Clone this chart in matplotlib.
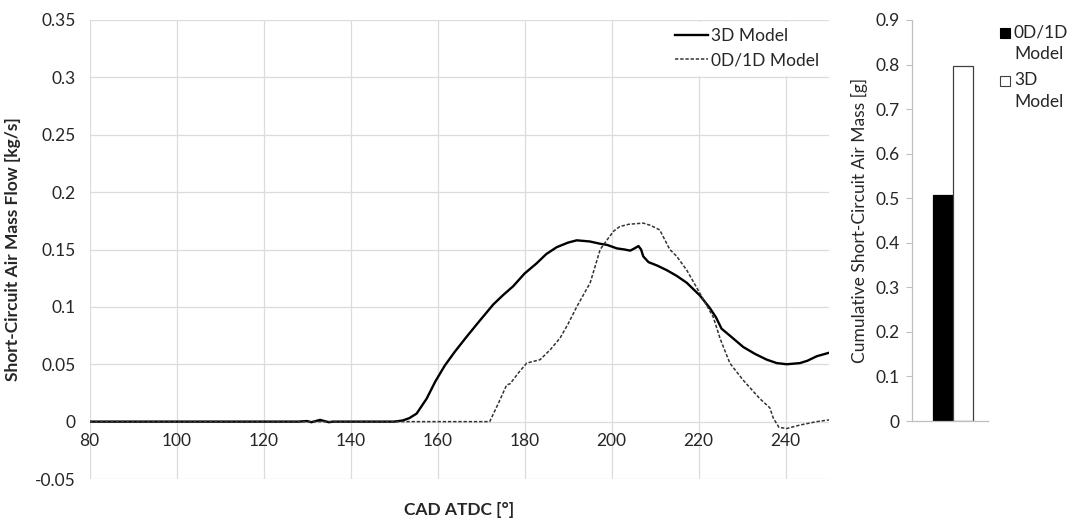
import matplotlib
matplotlib.use("Agg")
import matplotlib.pyplot as plt
from matplotlib.patches import Rectangle

plt.rcParams["font.family"] = ["Lato", "DejaVu Sans"]

# Crank-angle resolved short-circuit air mass flow [kg/s]
cad_3d = [80, 128, 130, 131, 132, 133, 134, 135, 136, 150, 152, 153.5, 155.2,
          157.5, 159.5, 161.7, 164, 166.7, 169.5, 172.8, 175, 177.4, 180, 182.8,
          185, 187.4, 190, 192, 195, 197.4, 199, 201.2, 203, 204.3, 205.3, 206.2,
          206.8, 207.3, 208.5, 210.5, 212.7, 215, 217.3, 220.3, 222.6, 224, 225.3,
          227.5, 230.3, 233, 235.7, 238, 240.3, 243.3, 245, 247.2, 250]
flow_3d = [0, 0, 0.0005, -0.0005, 0.0005, 0.0015, 0.0005, -0.0005, 0, 0, 0.001,
           0.003, 0.007, 0.020, 0.035, 0.049, 0.061, 0.074, 0.087, 0.102, 0.110,
           0.118, 0.129, 0.138, 0.146, 0.152, 0.156, 0.158, 0.157, 0.155, 0.154,
           0.151, 0.150, 0.149, 0.151, 0.153, 0.150, 0.144, 0.139, 0.136, 0.132,
           0.127, 0.121, 0.110, 0.099, 0.091, 0.081, 0.074, 0.065, 0.059, 0.054,
           0.051, 0.050, 0.051, 0.053, 0.057, 0.060]

cad_1d = [80, 150, 160, 172, 174, 175.9, 176.7, 178.5, 180.5, 183.6, 186, 188.2,
          190, 192, 195.1, 197.4, 198.9, 200.5, 201.9, 204, 207.3, 209, 211.1,
          213.4, 215, 217.3, 220.3, 223.4, 225, 227.2, 230.3, 234.1, 236.4, 237.2,
          238.5, 240.3, 243.3, 247.2, 250]
flow_1d = [0, 0, 0, 0, 0.016, 0.032, 0.033, 0.042, 0.051, 0.054, 0.063, 0.073,
           0.085, 0.100, 0.121, 0.150, 0.158, 0.166, 0.170, 0.172, 0.173, 0.171,
           0.167, 0.150, 0.144, 0.132, 0.112, 0.091, 0.072, 0.051, 0.036, 0.020,
           0.012, 0.003, -0.005, -0.006, -0.003, 0.000, 0.0015]

# Cumulative short-circuit air mass [g]
bar_labels = ["0D/1D\nModel", "3D\nModel"]
bar_values = [0.507, 0.797]

x_ticks = [80, 100, 120, 140, 160, 180, 200, 220, 240]
y_ticks = [-0.05, 0, 0.05, 0.1, 0.15, 0.2, 0.25, 0.3, 0.35]
y_ticklabels = ["-0.05", "0", "0.05", "0.1", "0.15", "0.2", "0.25", "0.3", "0.35"]
bar_ticks = [0, 0.1, 0.2, 0.3, 0.4, 0.5, 0.6, 0.7, 0.8, 0.9]
bar_ticklabels = ["0", "0.1", "0.2", "0.3", "0.4", "0.5", "0.6", "0.7", "0.8", "0.9"]

W, H = 1068, 518
fig = plt.figure(figsize=(W / 100, H / 100), dpi=100)
fig.patch.set_facecolor("white")

grid_c = "#dcdcdc"
text_c = "#262626"
fs = 12.5

# ---- mass flow traces ----
ax = fig.add_axes([89.5 / W, 1 - 479 / H, (829 - 89.5) / W, (479 - 20) / H])
ax.plot(cad_3d, flow_3d, color="black", lw=1.7, label="3D Model", zorder=3)
ax.plot(cad_1d, flow_1d, color="#333333", lw=1.1, dashes=(2.2, 1.2),
        label="0D/1D Model", zorder=3)
ax.set_xlim(80, 250)
ax.set_ylim(-0.05, 0.35)
ax.set_xticks(x_ticks)
ax.set_yticks(y_ticks)
ax.set_yticklabels(y_ticklabels)
ax.grid(True, color=grid_c, lw=0.9)
ax.set_axisbelow(True)
for s in ax.spines.values():
    s.set_visible(False)
ax.spines["bottom"].set_position(("data", 0))
ax.tick_params(axis="both", length=0, labelsize=fs, colors=text_c)
ax.tick_params(axis="y", pad=10)
ax.tick_params(axis="x", pad=8)
ax.set_ylabel("Short-Circuit Air Mass Flow [kg/s]", fontsize=fs,
              fontweight="bold", color=text_c, labelpad=10)
ax.text(0.5, -0.05, "CAD ATDC [°]", transform=ax.transAxes, ha="center",
        va="top", fontsize=fs, fontweight="bold", color=text_c)
leg = ax.legend(loc="upper right", bbox_to_anchor=(0.997, 1.0), fontsize=fs,
                frameon=True, handlelength=1.9, handletextpad=0.15,
                borderaxespad=0.1, labelspacing=0.5, borderpad=0.35)
leg.get_frame().set_facecolor("white")
leg.get_frame().set_edgecolor("white")
leg.get_frame().set_alpha(1)
for t in leg.get_texts():
    t.set_color(text_c)

# ---- cumulative mass bars ----
bx = fig.add_axes([912 / W, 1 - 421 / H, (988 - 912) / W, (421 - 20) / H])
bw = 0.265
bar_faces = ["black", "white"]
bar_edges = ["black", "#404040"]
for i, v in enumerate(bar_values):
    bx.bar([0.04 + (i - 0.5) * bw], [v], width=bw, color=bar_faces[i],
           edgecolor=bar_edges[i], lw=0.9)
bx.set_xlim(-0.5, 0.5)
bx.set_ylim(0, 0.9)
bx.set_xticks([])
bx.set_yticks(bar_ticks)
bx.set_yticklabels(bar_ticklabels)
for side in ("top", "right"):
    bx.spines[side].set_visible(False)
for side in ("left", "bottom"):
    bx.spines[side].set_color("#bfbfbf")
    bx.spines[side].set_linewidth(0.9)
bx.tick_params(axis="y", length=4, width=0.8, color="#bfbfbf", labelsize=fs,
               colors=text_c, pad=5)
bx.set_ylabel("Cumulative Short-Circuit Air Mass [g]", fontsize=fs,
              color=text_c, labelpad=5)

# key for the bars: square swatch next to a two-line label
key_tops = [24, 72]
for i, lab in enumerate(bar_labels):
    top = key_tops[i]
    fig.patches.append(Rectangle((1000 / W, 1 - (top + 14) / H), 10 / W, 10 / H,
                                 transform=fig.transFigure,
                                 facecolor=bar_faces[i], edgecolor=bar_edges[i],
                                 lw=0.8))
    fig.text(1014 / W, 1 - top / H, lab, ha="left", va="top", fontsize=fs,
             color=text_c, linespacing=1.45)

fig.savefig("out.png", dpi=100, facecolor="white")
